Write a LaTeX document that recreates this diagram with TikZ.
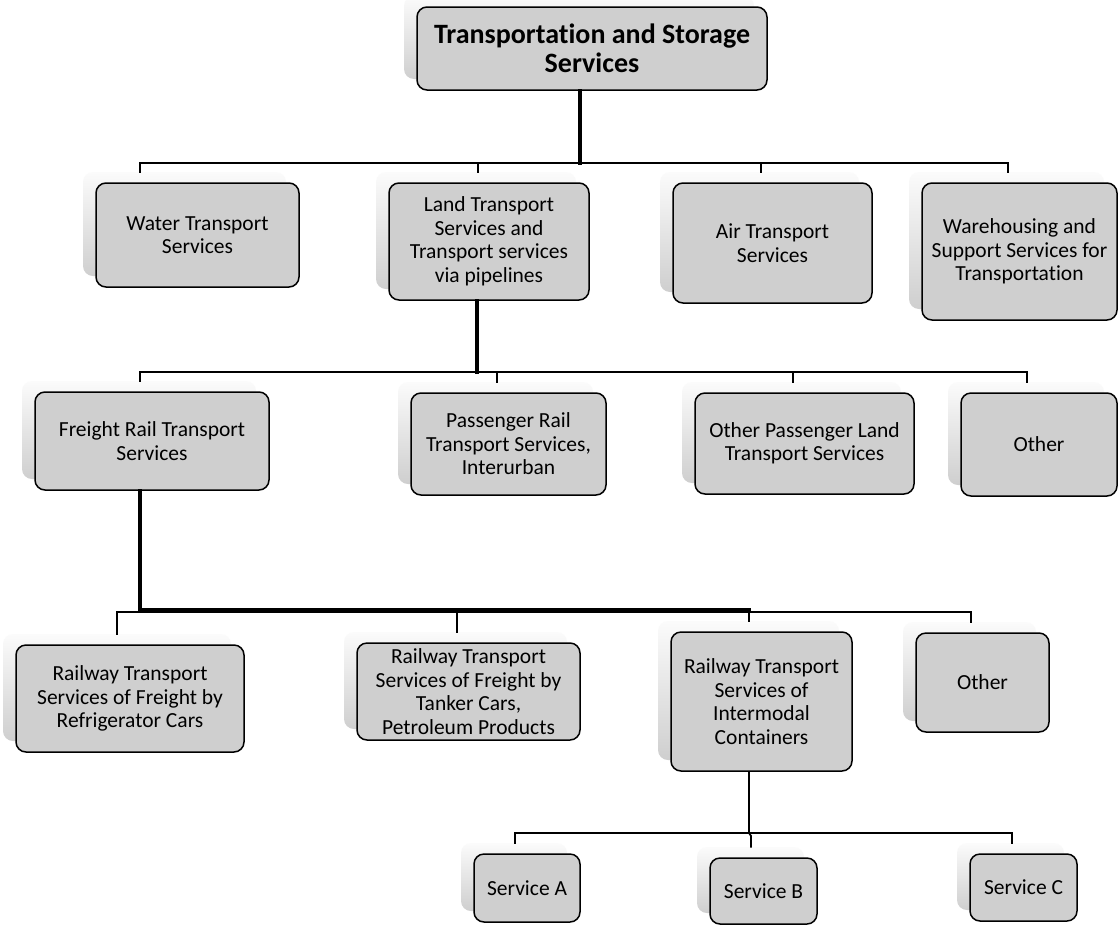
\documentclass[tikz,border=0pt]{standalone}
\usepackage{fontspec}
\setmainfont{Carlito}[RawFeature=-liga]
\definecolor{boxgray}{HTML}{CFCFCF}
\tikzset{
  mainbox/.style={draw=black, line width=1.5pt, rounded corners=10pt, fill=boxgray,
    align=center, inner sep=2pt, font=\fontsize{21.5}{23.5}\selectfont},
  shadowbox/.style={rounded corners=10pt, top color=gray!3, bottom color=gray!38, draw=none, inner sep=0pt},
  thinline/.style={line width=1.8pt, line cap=rect},
  thickline/.style={line width=3.2pt, line cap=rect},
}
\newcommand{\mybox}[6]{%
  \node[shadowbox, minimum width=#4pt, minimum height=#5pt] (#1-s) at (#2-13,#3-11) {};
  \node[mainbox, minimum width=#4pt, minimum height=#5pt] (#1) at (#2,#3) {#6};
}
\begin{document}
\begin{tikzpicture}[x=1pt,y=-1pt]
\useasboundingbox (0,0) rectangle (1118,924);
\fill[white] (0,0) rectangle (1118,924);

% level 0
\node[shadowbox, minimum width=350pt, minimum height=83pt] (root-s) at (579,37.5) {};
\node[mainbox, minimum width=350pt, minimum height=83pt, font=\fontsize{28}{28.5}\selectfont\bfseries] (root) at (592,48.5) {Transportation and Storage\\Services};

% level 1
\mybox{water}{197.5}{235}{203}{104}{Water Transport\\Services}
\mybox{land}{489}{241.5}{200}{117}{Land Transport\\Services and\\Transport services\\via pipelines}
\mybox{air}{772.5}{243}{199}{120}{Air Transport\\Services}
\mybox{ware}{1019.5}{251.5}{195}{137}{Warehousing and\\Support Services for\\Transportation}

% level 2
\mybox{freight}{152}{441}{234}{98}{Freight Rail Transport\\Services}
\mybox{pass}{508.5}{444}{195}{102}{Passenger Rail\\Transport Services,\\Interurban}
\mybox{opass}{804.5}{443.5}{219}{101}{Other Passenger Land\\Transport Services}
\mybox{other1}{1039}{444.5}{156}{103}{Other}

% level 3
\mybox{refr}{130}{698.5}{228}{107}{Railway Transport\\Services of Freight by\\Refrigerator Cars}
\mybox{tank}{468.5}{691.5}{223}{97}{Railway Transport\\Services of Freight by\\Tanker Cars,\\Petroleum Products}
\mybox{inter}{761.5}{701.5}{181}{139}{Railway Transport\\Services of\\Intermodal\\Containers}
\mybox{other2}{982.5}{682.5}{133}{99}{Other}

% level 4
\mybox{svcA}{527}{888}{106}{68}{Service A}
\mybox{svcB}{763.5}{891}{107}{66}{Service B}
\mybox{svcC}{1023.5}{887.5}{107}{67}{Service C}

% bus coordinates
\coordinate (b1) at (580,163);
\coordinate (b1l) at (140,163);
\coordinate (b1r) at (1008,163);
\coordinate (b2) at (477,372);
\coordinate (b2l) at (140,372);
\coordinate (b2r) at (1027,372);
\coordinate (b3) at (140,610);
\coordinate (b3t) at (749,610);
\coordinate (b3l) at (117,612);
\coordinate (b3r) at (971,612);
\coordinate (b4) at (749,833);
\coordinate (b4l) at (515,833);
\coordinate (b4r) at (1012,833);

% level 0 -> 1
\draw[thickline] (b1 |- root.south) -- (b1);
\draw[thinline] (b1l) -- (b1r);
\draw[thinline] (b1l) -- (b1l |- water-s.north);
\draw[thinline] (478,163) -- (478,163 |- land-s.north);
\draw[thinline] (761,163) -- (761,163 |- air-s.north);
\draw[thinline] (b1r) -- (b1r |- ware-s.north);

% level 1 -> 2
\draw[thickline] (b2 |- land.south) -- (b2);
\draw[thinline] (b2l) -- (b2r);
\draw[thinline] (b2l) -- (b2l |- freight-s.north);
\draw[thinline] (497,372) -- (497,372 |- pass-s.north);
\draw[thinline] (793,372) -- (793,372 |- opass-s.north);
\draw[thinline] (b2r) -- (b2r |- other1-s.north);

% level 2 -> 3
\draw[thickline] (b3 |- freight.south) -- (b3);
\draw[thickline] (b3) -- (b3t);
\draw[thinline] (b3l) -- (b3r);
\draw[thinline] (b3l) -- (b3l |- refr-s.north);
\draw[thinline] (457,612) -- (457,612 |- tank-s.north);
\draw[thinline] (749,612) -- (749,612 |- inter-s.north);
\draw[thinline] (b3r) -- (b3r |- other2-s.north);

% level 3 -> 4
\draw[thinline] (b4 |- inter.south) -- (b4);
\draw[thinline] (b4l) -- (b4r);
\draw[thinline] (b4l) -- (b4l |- svcA-s.north);
\draw[thinline] (b4) -- (751,836) -- (751,836 |- svcB-s.north);
\draw[thinline] (b4r) -- (b4r |- svcC-s.north);
\end{tikzpicture}
\end{document}
